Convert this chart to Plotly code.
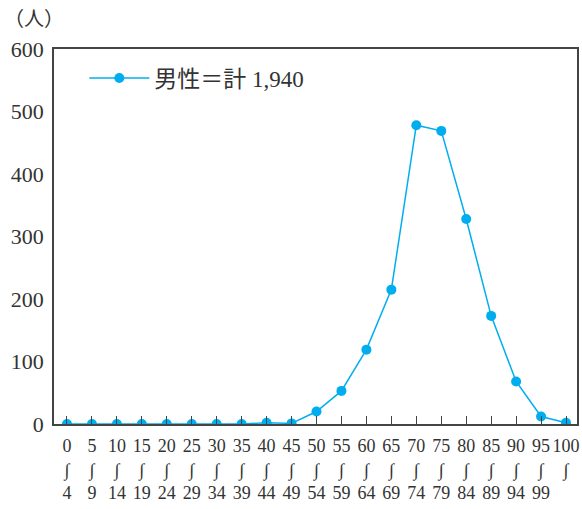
import plotly.graph_objects as go

age_start = [0, 5, 10, 15, 20, 25, 30, 35, 40, 45, 50, 55, 60, 65, 70, 75, 80, 85, 90, 95, 100]
age_end = [4, 9, 14, 19, 24, 29, 34, 39, 44, 49, 54, 59, 64, 69, 74, 79, 84, 89, 94, 99, None]
male = [0, 0, 0, 0, 0, 0, 0, 0, 2, 1, 20, 53, 119, 215, 478, 469, 328, 173, 68, 12, 2]
series_name = "男性＝計 1,940"
y_ticks = [0, 100, 200, 300, 400, 500, 600]

wave = "∫"
tick_text = []
for s, e in zip(age_start, age_end):
    if e is None:
        tick_text.append(f"{s}<br>{wave}<br> ")
    else:
        tick_text.append(f"{s}<br>{wave}<br>{e}")

idx = list(range(len(age_start)))
color = "#00aeef"
serif = "'Liberation Serif', 'DejaVu Serif', 'Noto Sans CJK JP', serif"

fig = go.Figure()
fig.add_trace(go.Scatter(
    x=idx, y=male, mode="lines+markers", name=series_name,
    line=dict(color=color, width=1.5),
    marker=dict(color=color, size=10),
))

fig.update_layout(
    width=582, height=509,
    margin=dict(l=54, r=3, t=49, b=85),
    paper_bgcolor="white", plot_bgcolor="white",
    font=dict(family=serif, color="#333333", size=20),
    showlegend=True,
    legend=dict(x=0.058, y=0.98, xanchor="left", yanchor="top", itemwidth=60,
                bgcolor="rgba(0,0,0,0)", font=dict(size=23, family=serif)),
    xaxis=dict(
        range=[-0.52, 20.44], tickmode="array", tickvals=idx, ticktext=tick_text,
        ticks="inside", ticklen=8, tickcolor="#444", tickwidth=1.2,
        showline=True, linecolor="#444", linewidth=1.5, mirror=True,
        showgrid=False, zeroline=False, tickfont=dict(size=18, family=serif),
        ticklabelstandoff=5, fixedrange=True,
    ),
    yaxis=dict(
        range=[0, 600], tickmode="array", tickvals=y_ticks,
        ticks="", showline=True, linecolor="#444", linewidth=1.5, mirror=True,
        showgrid=False, zeroline=False, tickfont=dict(size=22, family=serif),
        ticklabelstandoff=4, fixedrange=True,
    ),
    annotations=[dict(
        text="（人）", xref="paper", yref="paper", x=-0.1, y=1.0, yshift=30,
        xanchor="left", yanchor="middle", showarrow=False,
        font=dict(size=20, family=serif),
    )],
)

fig.write_html("out.html", config={"displayModeBar": False},
               post_script="document.body.style.margin='0';")
